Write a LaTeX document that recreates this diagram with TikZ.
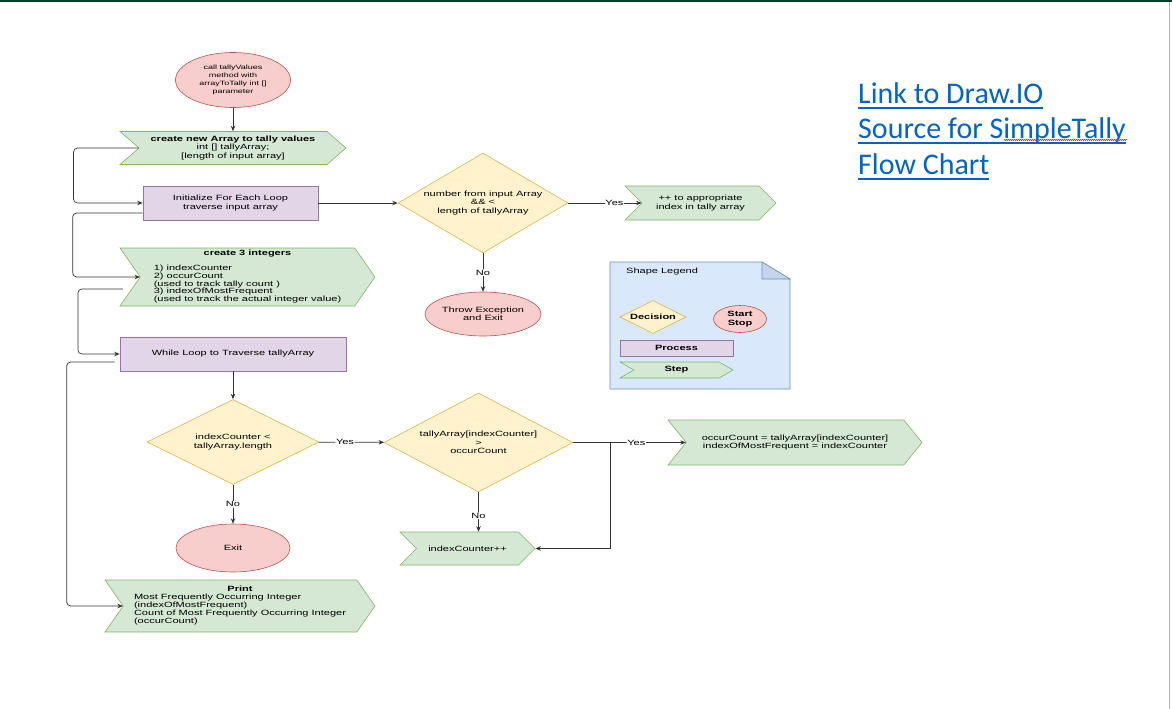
\documentclass[tikz,border=0pt]{standalone}
\usepackage{fontspec}
\usepackage{tikz}
\usetikzlibrary{arrows.meta,shapes.geometric,shapes.symbols,decorations.pathmorphing}
\newfontfamily\chartfont[FakeStretch=1.45]{Liberation Sans}
\newfontfamily\linkfont{Carlito}
\newcommand\chartsize{\chartfont\fontsize{7.6}{8.4}\selectfont}
\newcommand\chartsmall{\chartfont\fontsize{6.2}{8.2}\selectfont}
\newcommand\linkul[1]{\setbox0\hbox{#1}\rlap{\rule[-5.5pt]{\wd0}{1.8pt}}\box0}
\definecolor{stepfill}{HTML}{D5E8D4}
\definecolor{stepline}{HTML}{82B366}
\definecolor{procfill}{HTML}{E1D5E7}
\definecolor{procline}{HTML}{9673A6}
\definecolor{decfill}{HTML}{FFF2CC}
\definecolor{decline}{HTML}{D6B656}
\definecolor{termfill}{HTML}{F8CECC}
\definecolor{termline}{HTML}{B85450}
\definecolor{notefill}{HTML}{DAE8FC}
\definecolor{noteline}{HTML}{6C8EBF}
\definecolor{notefold}{HTML}{C3D5EE}
\definecolor{edgecol}{HTML}{333333}
\definecolor{topline}{HTML}{063D26}
\definecolor{linkblue}{HTML}{0563C1}

\begin{document}
\begin{tikzpicture}[x=1pt, y=-1pt,
	every node/.style={font=\chartsize, inner sep=0pt, align=center},
	stepbox/.style={signal, signal from=west, signal to=east, signal pointer angle=90, draw=stepline, fill=stepfill, line width=0.6pt},
	procbox/.style={rectangle, draw=procline, fill=procfill, line width=0.6pt},
	decbox/.style={diamond, aspect=1.7, draw=decline, fill=decfill, line width=0.6pt},
	termbox/.style={ellipse, draw=termline, fill=termfill, line width=0.6pt},
	flow/.style={draw=edgecol, line width=0.7pt, -{Stealth[length=5.5pt,width=4.5pt]}, rounded corners=4pt},
	lbl/.style={fill=white, inner sep=0.6pt}]
\useasboundingbox (0,0) rectangle (1172,709);
\fill[topline] (0,0) rectangle (1172,2.5);
\draw[gray!55, line width=1pt] (1169.5,2.5) -- (1169.5,709);

\node[termbox, minimum width=115, minimum height=55, font=\chartsmall] (start) at (233,80) {call tallyValues\\method with\\arrayToTally int []\\parameter};
\node[stepbox, minimum width=226, minimum height=33, signal pointer angle=82] (newarr) at (233,148) {\textbf{create new Array to tally values}\\int [] tallyArray;\\{[length of input array]}};
\node[procbox, minimum width=175, minimum height=34] (init) at (230.5,203) {Initialize For Each Loop\\traverse input array};
\node[decbox, minimum width=170, minimum height=100] (chk) at (483,203) {number from input Array\\\&\& <\\length of tallyArray};
\node[stepbox, minimum width=151, minimum height=34] (bump) at (700.5,203) {++ to appropriate\\index in tally array};
\node[termbox, minimum width=113, minimum height=44] (thrw) at (483,314) {Throw Exception\\and Exit};
\node[stepbox, minimum width=255, minimum height=58, signal pointer angle=110] (ints) at (247.5,277) {\textbf{create 3 integers}\\[6.6pt]\renewcommand\arraystretch{0.93}\begin{tabular}[t]{@{}l@{}}1) indexCounter\\2) occurCount\\(used to track tally count )\\3) indexOfMostFrequent\\(used to track the actual integer value)\end{tabular}};
\node[procbox, minimum width=226, minimum height=34] (loop) at (233,354) {While Loop to Traverse tallyArray};
\node[decbox, minimum width=172, minimum height=85] (cmp) at (233,442) {indexCounter <\\tallyArray.length};
\node[termbox, minimum width=114, minimum height=48] (exit) at (233,548) {Exit};
\node[stepbox, minimum width=270, minimum height=52, signal pointer angle=110] (prnt) at (240,606) {\textbf{Print}\\\renewcommand\arraystretch{0.95}\begin{tabular}[t]{@{}l@{}}Most Frequently Occurring Integer\\(indexOfMostFrequent)\\Count of Most Frequently Occurring Integer\\(occurCount)\end{tabular}};
\node[decbox, aspect=2, minimum width=189, minimum height=99] (gt) at (478.5,442.5) {tallyArray[indexCounter]\\>\\occurCount};
\node[stepbox, minimum width=135, minimum height=33] (incr) at (467.5,548.5) {indexCounter++};
\node[stepbox, minimum width=254, minimum height=45, signal pointer angle=102] (upd) at (795,442.5) {occurCount = tallyArray[indexCounter]\\indexOfMostFrequent = indexCounter};
\coordinate (split) at (610,442.5);

\draw[flow] (start) -- (newarr);
\draw[flow] (newarr.west) -- ++(-65,0) |- (init.west);
\draw[flow] (init) -- (chk);
\draw[flow] (chk) -- node[lbl, pos=0.63] {Yes} (bump.west);
\draw[flow] (chk) -- node[lbl] {No} (thrw);
\draw[flow] ([yshift=-10pt]init.west) -- ++(-70,0) |- (ints.west);
\draw[flow] ([shift={(-17pt,-12pt)}]ints.west) -- ++(-45,0) |- (loop.west);
\draw[flow] (loop) -- (cmp);
\draw[flow] ([shift={(-5pt,-8pt)}]loop.west) -- ++(-48,0) |- (prnt.west);
\draw[flow] (cmp) -- node[lbl, pos=0.4] {Yes} (gt);
\draw[flow] (cmp) -- node[lbl] {No} (exit);
\draw[flow] (gt) -- node[lbl, pos=0.56] {Yes} (upd.west);
\draw[flow] (gt.south) -- node[lbl, pos=0.6] {No} (gt.south |- incr.north);
\draw[flow, rounded corners=0pt] (split) |- (incr.east);

\draw[noteline, fill=notefill, line width=0.6pt] (610,262) -- (762,262) -- (790,279) -- (790,389) -- (610,389) -- cycle;
\draw[noteline, fill=notefold, line width=0.6pt] (762,262) -- (762,279) -- (790,279) -- cycle;
\node[anchor=west] (legtitle) at (626,272) {Shape Legend};
\node[decbox, aspect=2, minimum width=66, minimum height=33] (legdec) at (653,317) {\textbf{Decision}};
\node[termbox, minimum width=53, minimum height=27] (legterm) at (740,319) {\textbf{Start}\\\textbf{Stop}};
\node[procbox, minimum width=113, minimum height=16] (legproc) at (676.5,348) {\textbf{Process}};
\node[stepbox, minimum width=113, minimum height=16, signal pointer angle=60] (legstep) at (676.5,370) {\textbf{Step}};

\node[anchor=base west, font=\linkfont\fontsize{30}{35}\selectfont, text=linkblue] (link1) at (858,103) {\linkul{Link to Draw.IO}};
\node[anchor=base west, font=\linkfont\fontsize{30}{35}\selectfont, text=linkblue] (link2) at (858,138.5) {\linkul{Source for SimpleTally}};
\node[anchor=base west, font=\linkfont\fontsize{30}{35}\selectfont, text=linkblue] (link3) at (858,174) {\linkul{Flow Chart}};
\draw[red!80, line width=0.5pt, decorate, decoration={zigzag, amplitude=0.7pt, segment length=2pt}] (1004,140) -- (1127,140);
\end{tikzpicture}
\end{document}
